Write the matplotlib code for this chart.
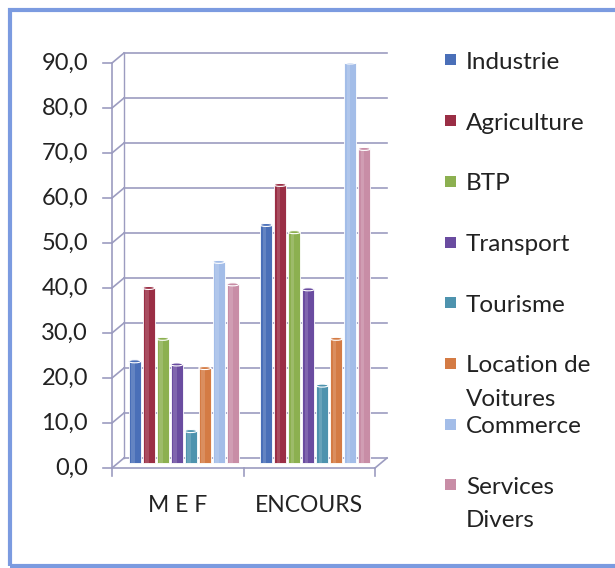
import matplotlib
matplotlib.use("Agg")
import matplotlib.pyplot as plt
from matplotlib.patches import Rectangle, Ellipse
import numpy as np

# ----------------------------------------------------------------
# data
# ----------------------------------------------------------------
categories = ["M E F", "ENCOURS"]
sectors = ["Industrie", "Agriculture", "BTP", "Transport", "Tourisme",
           "Location de\nVoitures", "Commerce", "Services\nDivers"]
mef = [22.6, 38.9, 27.6, 21.9, 7.1, 21.1, 44.7, 39.7]
encours = [52.9, 61.8, 51.3, 38.6, 17.2, 27.6, 89.0, 69.8]
colors = ["#4a6fb8", "#9a2e45", "#8cb050", "#6a4ca0",
          "#4e93ae", "#d47b44", "#a3bde8", "#c88da6"]
yticks = [0, 10, 20, 30, 40, 50, 60, 70, 80, 90]

plt.rcParams['font.family'] = ['Lato', 'DejaVu Sans']

W, H = 615, 568
fig = plt.figure(figsize=(W / 100, H / 100), dpi=100)

# outer blue frame (right edge runs off the picture)
fig.patches.append(Rectangle((10 / W, 1 - 566 / H), 2.0, (566 - 10) / H,
                             transform=fig.transFigure, fill=False,
                             edgecolor="#7b9be0", linewidth=3))

ax = fig.add_axes([112 / W, 1 - 468 / H, 263 / W, 405 / H])
ax.set_xlim(-0.5, 1.5)
ax.set_ylim(0, 90)
ax.axis("off")

# depth offset of the fake 3d box, in data units
px_x = 263 / 2.0
px_y = 405 / 90.0
dx = 12 / px_x
dy = 10 / px_y
grid_col = "#9c9cc0"

# back wall gridlines with the little diagonals to the front axis
for v in yticks:
    ax.plot([-0.5 + dx, 1.5 + dx], [v + dy, v + dy], color=grid_col, lw=1.2, clip_on=False)
    ax.plot([-0.5, -0.5 + dx], [v, v + dy], color=grid_col, lw=1.2, clip_on=False)
    ax.plot([-0.5 - 9 / px_x, -0.5], [v, v], color=grid_col, lw=1.2, clip_on=False)
    ax.text(-0.5 - 24 / px_x, v, f"{v:.1f}".replace(".", ","), ha="right",
            va="center", fontsize=17, color="#222222")

# front axis, floor and back wall left edge
ax.plot([-0.5, -0.5], [0, 90], color=grid_col, lw=1.2, clip_on=False)
ax.plot([-0.5 + dx, -0.5 + dx], [dy, 90 + dy], color=grid_col, lw=1.0, clip_on=False)
ax.plot([-0.5, 1.5], [0, 0], color=grid_col, lw=1.2, clip_on=False)
ax.plot([1.5, 1.5 + dx], [0, dy], color=grid_col, lw=1.2, clip_on=False)
for xt in [-0.5, 0.5, 1.5]:
    ax.plot([xt, xt], [0, -8 / px_y], color=grid_col, lw=1.2, clip_on=False)

for i, cat in enumerate(categories):
    ax.text(i, -37 / px_y, cat, ha="center", va="center", fontsize=16.5, color="#222222")

# cylinders, drawn as bars with a highlight and an elliptic top
step = 14 / px_x
width = 12 / px_x
base = dy / 2
for j, col in enumerate(colors):
    xs = np.arange(len(categories)) + (j - 3.5) * step + dx / 2
    vals = [mef[j], encours[j]]
    ax.bar(xs, vals, width=width, bottom=base, color=col, edgecolor="white",
           linewidth=0.6, zorder=3)
    ax.bar(xs - width * 0.15, vals, width=width * 0.3, bottom=base, color="white",
           alpha=0.15, linewidth=0, zorder=4)
    for x, v in zip(xs, vals):
        ax.add_patch(Ellipse((x, base + v), width, 3 / px_y, facecolor=col,
                             edgecolor="white", linewidth=0.8, zorder=5))

# legend drawn by hand: fixed slot per entry
for j, (name, col) in enumerate(zip(sectors, colors)):
    yc = 1 - (60 + j * 60.7) / H
    fig.patches.append(Rectangle((445 / W, yc - 5.5 / H), 11 / W, 11 / H,
                                 transform=fig.transFigure, facecolor=col,
                                 edgecolor="none"))
    fig.text(466 / W, yc + 8 / H, name, ha="left", va="top", fontsize=17.5,
             color="#222222", linespacing=1.72)

fig.savefig("out.png", dpi=100)
